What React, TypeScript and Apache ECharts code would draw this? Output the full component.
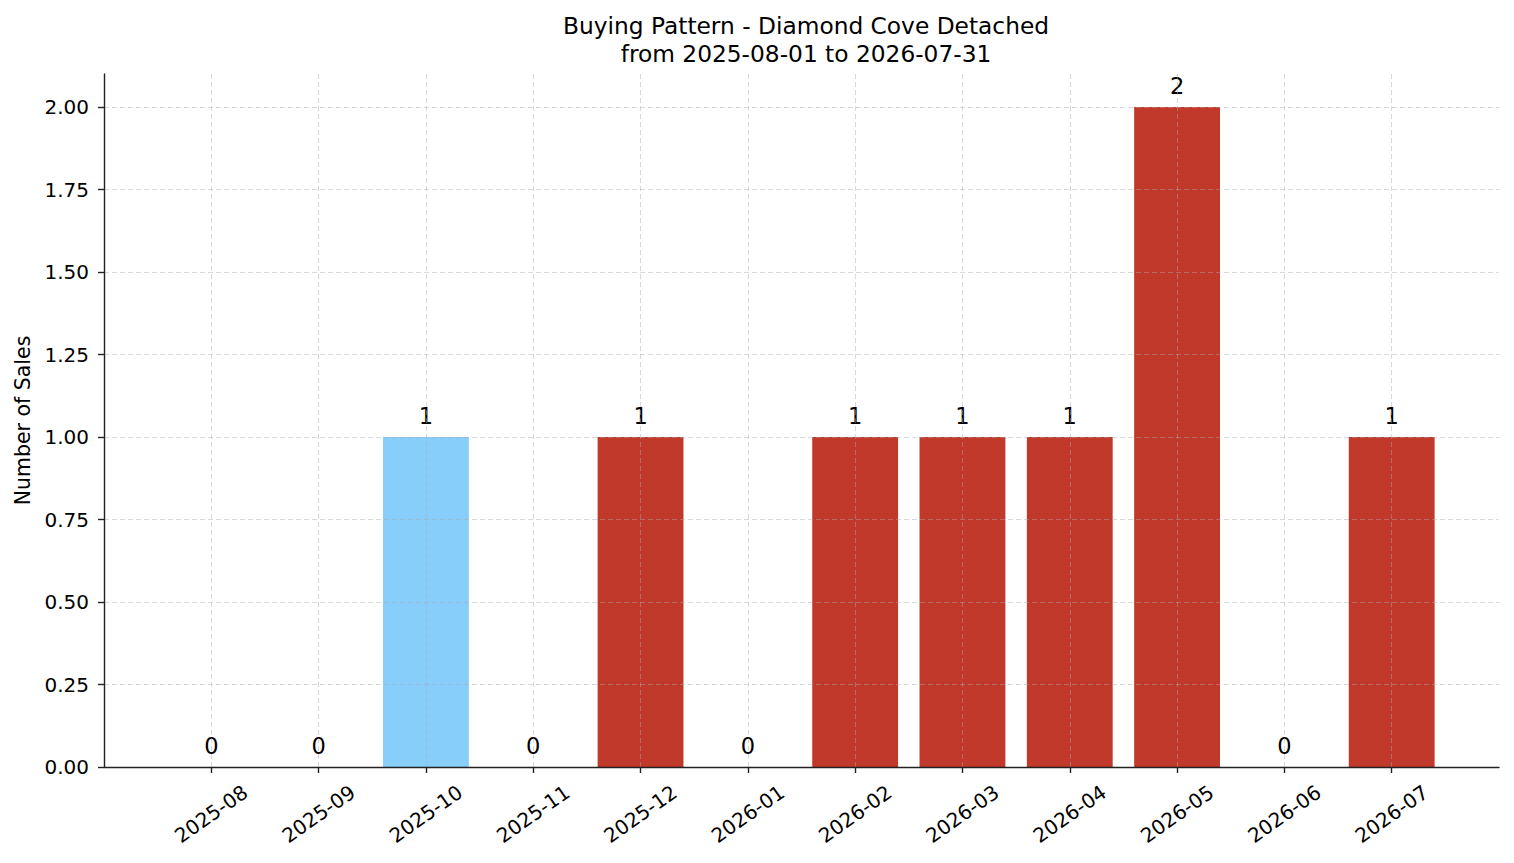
import React, { useEffect, useRef } from 'react';
import * as echarts from 'echarts';

const months = [
  '2025-08', '2025-09', '2025-10', '2025-11', '2025-12', '2026-01',
  '2026-02', '2026-03', '2026-04', '2026-05', '2026-06', '2026-07'
];
const sales = [0, 0, 1, 0, 1, 0, 1, 1, 1, 2, 0, 1];
const highlightMonths = ['2025-10'];
const yTicks = [0, 0.25, 0.5, 0.75, 1, 1.25, 1.5, 1.75, 2];

const FONT = 'DejaVu Sans';

const App: React.FC = () => {
  const chartRef = useRef<HTMLDivElement>(null);

  useEffect(() => {
    if (!chartRef.current) return;
    const chart = echarts.init(chartRef.current, undefined, { renderer: 'svg' });

    // pad one empty slot each side so bars sit one band in from the axis ends
    const cats = ['', ...months, ''];
    const values = [
      '-',
      ...sales.map((v, i) => ({
        value: v,
        itemStyle: { color: highlightMonths.includes(months[i]) ? '#87CEFA' : '#C0392B' }
      })),
      '-'
    ];
    const inner = (i: number) => i > 0 && i < cats.length - 1;

    const option = {
      animation: false,
      backgroundColor: '#fff',
      textStyle: { fontFamily: FONT },
      title: {
        text: 'Buying Pattern - Diamond Cove Detached\nfrom 2025-08-01 to 2026-07-31',
        left: 801,
        top: 6,
        textAlign: 'center',
        textStyle: {
          fontFamily: FONT,
          fontSize: 23.3,
          fontWeight: 'normal',
          color: '#000',
          lineHeight: 28
        }
      },
      grid: { left: 104, right: 15, top: 74, bottom: 96 },
      xAxis: {
        type: 'category',
        data: cats,
        boundaryGap: false,
        z: 3,
        axisLine: { lineStyle: { color: '#222', width: 1.4 } },
        axisTick: {
          interval: (i: number) => inner(i),
          length: 6,
          lineStyle: { color: '#222', width: 1.4 }
        },
        axisLabel: {
          interval: (i: number) => inner(i),
          rotate: 35,
          align: 'center',
          verticalAlign: 'middle',
          margin: 47,
          fontSize: 20,
          color: '#000',
          fontFamily: FONT
        },
        splitLine: {
          show: true,
          interval: (i: number) => inner(i),
          lineStyle: { color: 'rgba(170,170,170,0.5)', type: [5, 3], width: 0.9 }
        }
      },
      yAxis: {
        type: 'value',
        min: 0,
        max: 2.1,
        z: 3,
        name: 'Number of Sales',
        nameLocation: 'middle',
        nameGap: 71,
        nameTextStyle: { fontSize: 20.5, color: '#000', fontFamily: FONT },
        axisLine: { show: true, lineStyle: { color: '#222', width: 1.4 } },
        axisTick: {
          show: true,
          length: 6,
          customValues: yTicks,
          lineStyle: { color: '#222', width: 1.4 }
        },
        axisLabel: {
          customValues: yTicks,
          formatter: (v: number) => v.toFixed(2),
          margin: 15,
          fontSize: 20,
          color: '#000',
          fontFamily: FONT
        },
        splitLine: {
          show: true,
          lineStyle: { color: 'rgba(170,170,170,0.5)', type: [5, 3], width: 0.9 }
        }
      },
      series: [
        {
          type: 'bar',
          data: values,
          barWidth: '80%',
          label: {
            show: true,
            position: 'top',
            distance: 10,
            fontSize: 22.5,
            color: '#000',
            fontFamily: FONT
          }
        }
      ]
    };

    chart.setOption(option as any);
    return () => chart.dispose();
  }, []);

  return (
    <div
      ref={chartRef}
      style={{ position: 'absolute', left: 0, top: 0, width: 1514, height: 863 }}
    />
  );
};

export default App;
